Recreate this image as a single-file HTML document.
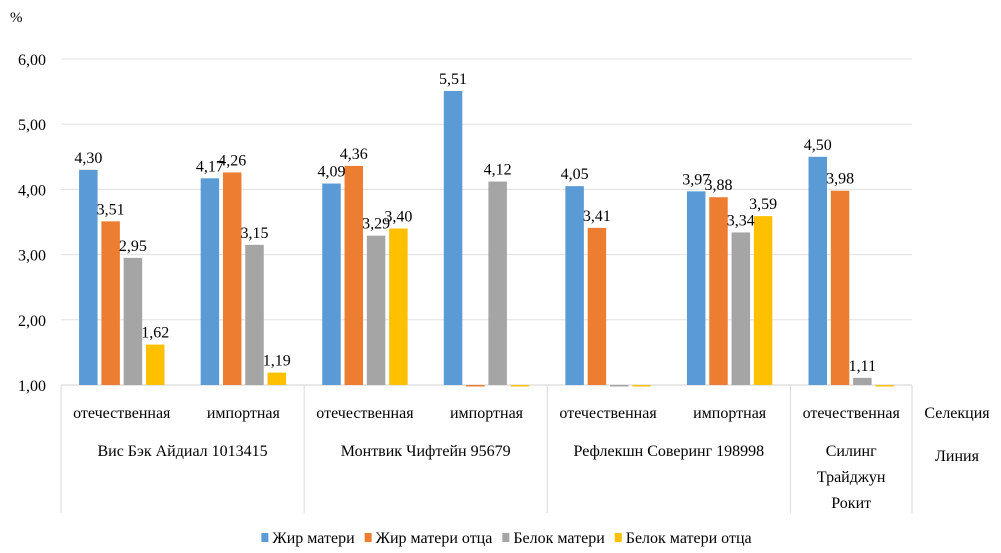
<!DOCTYPE html>
<html><head><meta charset="utf-8">
<style>
body{margin:0;background:#fff;}
svg{display:block;}
text{font-family:"Liberation Serif","Times New Roman",Times,"DejaVu Serif",serif;}
</style></head>
<body>
<svg id="chart" width="1001" height="553">
<text x="10" y="22" font-size="15">%</text>
<g id="grid"></g><g id="bars"></g><g id="labels"></g><g id="axis"></g>
</svg>
<script>
const categories=["отечественная","импортная","отечественная","импортная","отечественная","импортная","отечественная"];
const lines=[["Вис Бэк Айдиал 1013415"],["Монтвик Чифтейн 95679"],["Рефлекшн Соверинг 198998"],["Силинг","Трайджун","Рокит"]];
const lineSpans=[2,2,2,1];
const seriesNames=["Жир матери","Жир матери отца","Белок матери","Белок матери отца"];
const colors=["#5b9bd5","#ed7d31","#a5a5a5","#ffc000"];
const fatMother=[4.30,4.17,4.09,5.51,4.05,3.97,4.50];
const fatMotherFather=[3.51,4.26,4.36,0.98,3.41,3.88,3.98];
const proteinMother=[2.95,3.15,3.29,4.12,0.98,3.34,1.11];
const proteinMotherFather=[1.62,1.19,3.40,0.98,0.98,3.59,0.98];
const yTicks=[1,2,3,4,5,6];
const yTickLabels=["1,00","2,00","3,00","4,00","5,00","6,00"];
const series=[fatMother,fatMotherFather,proteinMother,proteinMotherFather];
const NS="http://www.w3.org/2000/svg";
const X0=61,X1=912,Y0=385,Y1=59,ymin=1,ymax=6;
const cw=(X1-X0)/categories.length;
const y=v=>Y0-(v-ymin)/(ymax-ymin)*(Y0-Y1);
function mk(t,a,p){const e=document.createElementNS(NS,t);for(const k in a)e.setAttribute(k,a[k]);p.appendChild(e);return e;}
const grid=document.getElementById('grid'),bars=document.getElementById('bars'),labels=document.getElementById('labels'),axis=document.getElementById('axis');
yTicks.forEach((t,i)=>{
 const l=mk('line',{x1:X0,x2:X1,y1:y(t),y2:y(t),stroke:i==0?'#d0d0d0':'#e0e0e0','stroke-width':1},grid);
 
 
 const tx=mk('text',{x:X0-15,y:y(t)+6,'text-anchor':'end','font-size':16},axis);
 tx.textContent=yTickLabels[i];
 
 
});
const bw=18.5,gap=3.8,gw=4*bw+3*gap;
categories.forEach((c,ci)=>{
 const cx=X0+cw*(ci+0.5);
 series.forEach((s,si)=>{
  const v=s[ci];const bx=cx-gw/2+si*(bw+gap);
  const top=Math.min(y(v),Y0),h=Math.max(Math.abs(y(v)-Y0),1.5);
  const r=mk('rect',{x:bx,y:top,width:bw,height:h,fill:colors[si]},bars);
  
  
  if(v>1){
   const t=mk('text',{x:bx+bw/2,y:y(v)-7,'text-anchor':'middle','font-size':16},labels);
   t.textContent=v.toFixed(2).replace('.',',');
   
   
  }
 });
 const t=mk('text',{x:cx,y:418,'text-anchor':'middle','font-size':16},axis);
 t.textContent=c;
 
 
});
let start=0;
const seps=[X0];
lines.forEach((ln,li)=>{
 const a=X0+start*cw,b=X0+(start+lineSpans[li])*cw;start+=lineSpans[li];seps.push(b);
 ln.forEach((s,k)=>{
  const t=mk('text',{x:(a+b)/2,y:456+k*26,'text-anchor':'middle','font-size':16},axis);
  t.textContent=s;
  
  
 });
});
seps.forEach(sx=>{
 const l=mk('line',{x1:sx,x2:sx,y1:Y0,y2:513,stroke:'#d9d9d9'},axis);
 
 
});
[["Селекция",418],["Линия",461]].forEach(([s,yy])=>{
 const t=mk('text',{x:957,y:yy,'text-anchor':'middle','font-size':16},axis);
 t.textContent=s;
 
 
});
const legendGroup=mk('g',{},axis);


const entries=[];
seriesNames.forEach((n,i)=>{
 const g=mk('g',{},legendGroup);
 
 
 const r=mk('rect',{x:0,y:533,width:7,height:9,fill:colors[i]},g);
 const t=mk('text',{x:11,y:543,'font-size':16},g);
 t.textContent=n;
 entries.push([r,t]);
});
let total=0;const ws=entries.map(([r,t])=>{const w=11+t.getComputedTextLength();total+=w;return w;});
const sp=10;let lx=(X0+X1)/2+20-(total+sp*3)/2;
entries.forEach(([r,t],i)=>{r.setAttribute('x',lx);t.setAttribute('x',lx+11);lx+=ws[i]+sp;});
</script>
</body></html>
